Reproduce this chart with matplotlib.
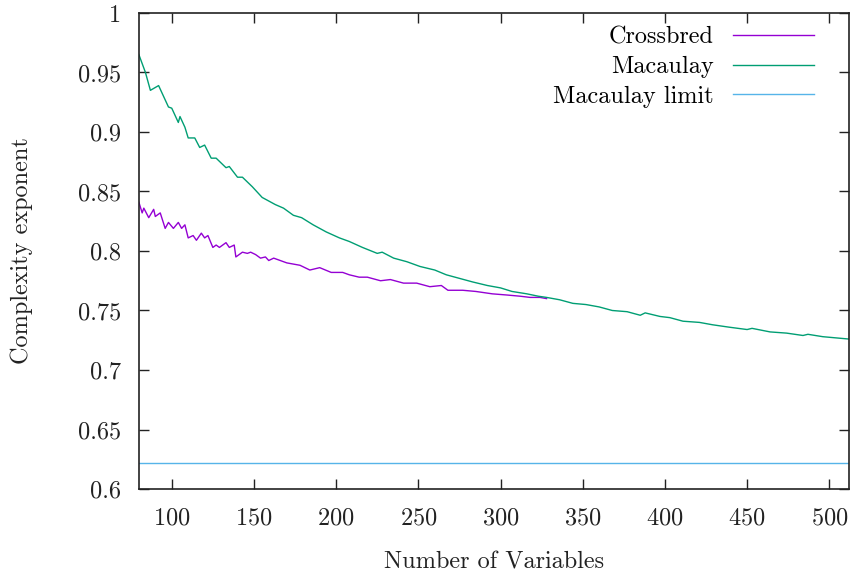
import matplotlib
matplotlib.use("Agg")
import matplotlib.pyplot as plt
from matplotlib.ticker import FuncFormatter, MultipleLocator

plt.rcParams["font.family"] = ["cmr10", "DejaVu Serif"]
plt.rcParams["axes.formatter.use_mathtext"] = True
plt.rcParams["font.size"] = 17.5

# Crossbred exponents (number of variables -> exponent)
crossbred_n = [80, 82, 83, 86, 89, 90, 93, 96, 98, 101, 104, 106, 108, 110, 113,
               115, 118, 120, 122, 125, 127, 129, 133, 135, 138, 139, 143, 146,
               148, 151, 154, 157, 159, 162, 170, 178, 184, 190, 197, 204, 208,
               214, 219, 227, 233, 241, 249, 257, 264, 268, 277, 285, 295, 304,
               312, 318, 324, 328]
crossbred_exp = [0.841, 0.832, 0.836, 0.828, 0.835, 0.829, 0.832, 0.819, 0.824,
                 0.819, 0.824, 0.819, 0.822, 0.811, 0.813, 0.809, 0.815, 0.811,
                 0.813, 0.803, 0.805, 0.803, 0.807, 0.803, 0.805, 0.795, 0.799,
                 0.798, 0.799, 0.797, 0.794, 0.795, 0.792, 0.794, 0.790, 0.788,
                 0.784, 0.786, 0.782, 0.782, 0.780, 0.778, 0.778, 0.775, 0.776,
                 0.773, 0.773, 0.770, 0.771, 0.767, 0.767, 0.766, 0.764, 0.763,
                 0.762, 0.761, 0.761, 0.760]

# Macaulay exponents
macaulay_n = [80, 84, 87, 92, 94, 98, 100, 104, 105, 108, 110, 114, 117, 120, 124,
              127, 133, 135, 140, 143, 149, 155, 163, 168, 174, 179, 186, 194,
              202, 208, 216, 225, 228, 235, 243, 251, 260, 267, 275, 283, 292,
              300, 307, 316, 323, 328, 336, 344, 352, 360, 368, 377, 385, 388,
              397, 403, 411, 421, 429, 439, 450, 453, 464, 474, 484, 487, 496,
              504, 512]
macaulay_exp = [0.965, 0.950, 0.935, 0.939, 0.933, 0.921, 0.920, 0.908, 0.913,
                0.904, 0.895, 0.895, 0.887, 0.889, 0.878, 0.878, 0.870, 0.871,
                0.862, 0.862, 0.854, 0.845, 0.839, 0.836, 0.830, 0.828, 0.822,
                0.816, 0.811, 0.808, 0.803, 0.798, 0.799, 0.794, 0.791, 0.787,
                0.784, 0.780, 0.777, 0.774, 0.771, 0.769, 0.766, 0.764, 0.762,
                0.761, 0.759, 0.756, 0.755, 0.753, 0.750, 0.749, 0.746, 0.748,
                0.745, 0.744, 0.741, 0.740, 0.738, 0.736, 0.734, 0.735, 0.732,
                0.731, 0.729, 0.730, 0.728, 0.727, 0.726]

macaulay_limit = 0.6216

fig = plt.figure(figsize=(8.52, 5.77), dpi=100)
ax = fig.add_axes([0.163, 0.1525, 0.8335, 0.825])

ax.plot(crossbred_n, crossbred_exp, color="#9400d3", lw=1.0, label="Crossbred")
ax.plot(macaulay_n, macaulay_exp, color="#009e73", lw=1.0, label="Macaulay")
ax.axhline(macaulay_limit, color="#56b4e9", lw=1.0, label="Macaulay limit")

ax.set_xlim(80, 512)
ax.set_ylim(0.6, 1.0)
ax.xaxis.set_major_locator(MultipleLocator(50))
ax.yaxis.set_major_locator(MultipleLocator(0.05))
ax.yaxis.set_major_formatter(FuncFormatter(lambda v, p: f"{v:g}"))
ax.tick_params(direction="in", length=7, width=1.0, top=True, right=True,
               colors="#222222", labelcolor="#222222")
ax.tick_params(axis="x", pad=13)
ax.tick_params(axis="y", pad=13)
for s in ax.spines.values():
    s.set_linewidth(1.2)
    s.set_color("#222222")

ax.set_xlabel("Number of Variables", labelpad=16, color="#222222")
ax.set_ylabel("Complexity exponent", labelpad=32, color="#222222")

ax.legend(loc="upper right", frameon=False, markerfirst=False, handlelength=3.3,
          handletextpad=0.8, labelspacing=0.3, borderaxespad=0.3,
          bbox_to_anchor=(0.974, 1.007))

fig.savefig("out.png", dpi=100)
